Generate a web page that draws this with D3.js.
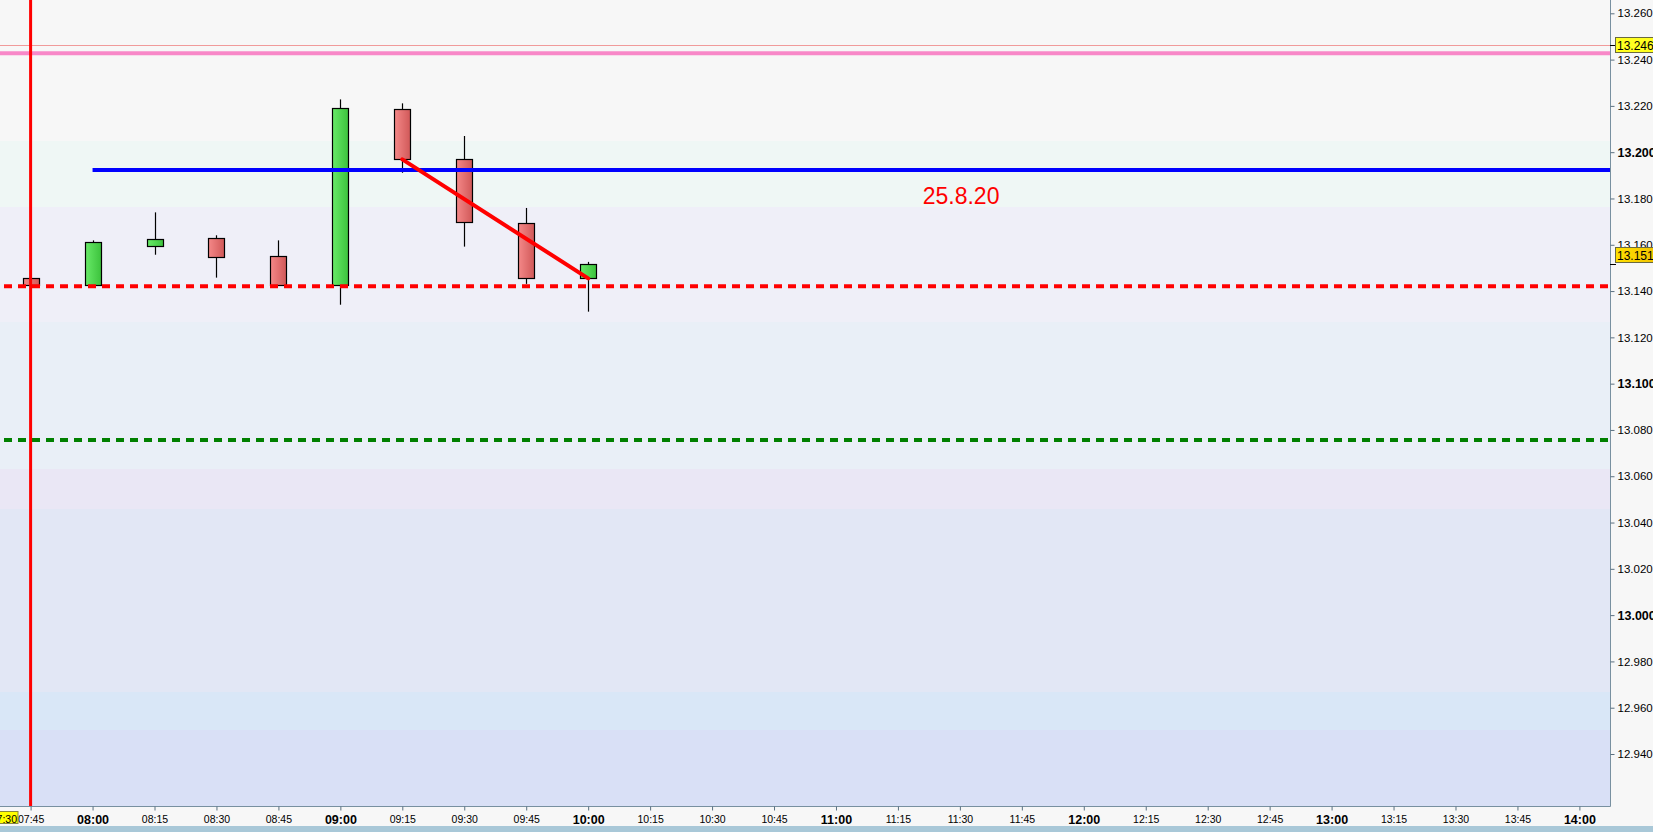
<!DOCTYPE html>
<html><head><meta charset="utf-8">
<script src="https://cdn.jsdelivr.net/npm/d3@7/dist/d3.min.js"></script>
<style>
body{margin:0;background:#f7f7f7;overflow:hidden}
svg{display:block}
text{font-family:"Liberation Sans",Arial,sans-serif}
</style>
</head><body>
<svg id="c" width="1653" height="832"></svg>
<script>
// ---- data ----
const candleTimes = ["07:45","08:00","08:15","08:30","08:45","09:00","09:15","09:30","09:45","10:00"];
const opens  = [13.1455,13.1425,13.1593,13.1628,13.1550,13.1425,13.2185,13.1969,13.1693,13.1455];
const highs  = [13.1455,13.1619,13.1740,13.1641,13.1619,13.2228,13.2211,13.2070,13.1759,13.1526];
const lows   = [13.1425,13.1425,13.1557,13.1458,13.1425,13.1341,13.1911,13.1592,13.1431,13.1311];
const closes = [13.1425,13.1611,13.1624,13.1546,13.1425,13.2190,13.1969,13.1697,13.1455,13.1516];

const xTickLabels = ["07:45","08:00","08:15","08:30","08:45","09:00","09:15","09:30","09:45","10:00",
  "10:15","10:30","10:45","11:00","11:15","11:30","11:45","12:00","12:15","12:30","12:45",
  "13:00","13:15","13:30","13:45","14:00"];
const yTickValues = [12.94,12.96,12.98,13.00,13.02,13.04,13.06,13.08,13.10,13.12,13.14,13.16,13.18,13.20,13.22,13.24,13.26];

// background bands (price boundaries, top to bottom)
const bandEdges = [13.2660,13.2048,13.1763,13.1266,13.0631,13.0458,12.9668,12.9504,12.9170];
const bandColors = ["#f7f7f7","#eff7f5","#efeff8","#e9eff7","#eae7f5","#e2e7f5","#d9e7f7","#d9e0f6"];

// horizontal levels
const pinkLevel = 13.2427;
const thinLevel = 13.2463;
const blueLevel = 13.1923;
const blueStart = "08:00";
const redDashLevel = 13.1421;
const greenDashLevel = 13.0757;
const verticalLineTime = "07:45";
const trendFrom = ["09:15", 13.1969];
const trendTo = ["10:00", 13.1455];
const noteText = "25.8.20";
const noteTime = "11:21";
const noteValue = 13.1777;
const lastPriceLabel = "13.151,";
const lastPrice = 13.1517;
const thinLabel = "13.246,";
const cursorLabel = "07:30";

// ---- layout ----
const W = 1653, H = 832, PR = 1610, PB = 806;
const toMin = s => { const [h,m] = s.split(":").map(Number); return h*60+m; };
const x = d3.scaleLinear().domain([465, 840]).range([30.6, 1579.4]);
const y = d3.scaleLinear().domain([12.94, 13.26]).range([754, 13.3]);

const svg = d3.select("#c");
svg.append("rect").attr("width",W).attr("height",H).attr("fill","#f7f7f7");

const defs = svg.append("defs");
function grad(id, c1, c2){
  const g = defs.append("linearGradient").attr("id",id).attr("x1","0").attr("x2","1").attr("y1","0").attr("y2","0");
  g.append("stop").attr("offset","0").attr("stop-color",c1);
  g.append("stop").attr("offset","1").attr("stop-color",c2);
}
grad("gUp","#68ea68","#3cc23c");
grad("gDn","#f48888","#d05858");
grad("gLbl","#ffe000","#f0c000");
defs.append("clipPath").attr("id","plot").append("rect").attr("x",0).attr("y",0).attr("width",PR).attr("height",PB);

const plot = svg.append("g").attr("clip-path","url(#plot)");

// bands
plot.selectAll("rect.band").data(bandColors).join("rect").attr("class","band")
  .attr("x",0).attr("width",PR)
  .attr("y",(d,i)=>Math.round(y(bandEdges[i])))
  .attr("height",(d,i)=>Math.round(y(bandEdges[i+1]))-Math.round(y(bandEdges[i])))
  .attr("fill",d=>d);

// candles
const candles = candleTimes.map((t,i)=>({t:toMin(t),o:opens[i],h:highs[i],l:lows[i],c:closes[i]}));
const cg = plot.append("g");
cg.selectAll("line.wick").data(candles).join("line").attr("class","wick")
  .attr("x1",d=>Math.round(x(d.t))+0.5).attr("x2",d=>Math.round(x(d.t))+0.5)
  .attr("y1",d=>y(d.h)).attr("y2",d=>y(d.l))
  .attr("stroke","#000").attr("stroke-width",1.2);
cg.selectAll("rect.body").data(candles).join("rect").attr("class","body")
  .attr("x",d=>Math.round(x(d.t))-8+0.5).attr("width",16)
  .attr("y",d=>Math.round(y(Math.max(d.o,d.c)))+0.5)
  .attr("height",d=>Math.max(1,Math.round(y(Math.min(d.o,d.c)))-Math.round(y(Math.max(d.o,d.c)))))
  .attr("fill",d=>d.c>=d.o?"url(#gUp)":"url(#gDn)")
  .attr("stroke","#000").attr("stroke-width",1.2);

// horizontal lines
plot.append("line").attr("x1",0).attr("x2",PR).attr("y1",Math.round(y(thinLevel))+0.5).attr("y2",Math.round(y(thinLevel))+0.5)
  .attr("stroke","#f09a9a").attr("stroke-width",1);
plot.append("line").attr("x1",0).attr("x2",PR).attr("y1",y(pinkLevel)).attr("y2",y(pinkLevel))
  .attr("stroke","#f888c8").attr("stroke-width",4);
plot.append("line").attr("x1",x(toMin(blueStart))).attr("x2",PR).attr("y1",y(blueLevel)).attr("y2",y(blueLevel))
  .attr("stroke","#0000ff").attr("stroke-width",4);
plot.append("line").attr("x1",4).attr("x2",PR).attr("y1",y(redDashLevel)).attr("y2",y(redDashLevel))
  .attr("stroke","#ff0000").attr("stroke-width",4).attr("stroke-dasharray","8 6");
plot.append("line").attr("x1",4).attr("x2",PR).attr("y1",y(greenDashLevel)).attr("y2",y(greenDashLevel))
  .attr("stroke","#008000").attr("stroke-width",4).attr("stroke-dasharray","8 6");

// vertical red line
plot.append("line").attr("x1",x(toMin(verticalLineTime))).attr("x2",x(toMin(verticalLineTime)))
  .attr("y1",0).attr("y2",PB).attr("stroke","#ff0000").attr("stroke-width",3);

// trend line
plot.append("line")
  .attr("x1",x(toMin(trendFrom[0]))).attr("y1",y(trendFrom[1]))
  .attr("x2",x(toMin(trendTo[0]))).attr("y2",y(trendTo[1]))
  .attr("stroke","#ff0000").attr("stroke-width",4).attr("stroke-linecap","round");

// note text
plot.append("text").attr("x",x(toMin(noteTime))).attr("y",y(noteValue))
  .attr("fill","#ff0000").attr("font-size",23).text(noteText);

// borders
svg.append("line").attr("x1",PR+0.5).attr("x2",PR+0.5).attr("y1",0).attr("y2",PB+0.5).attr("stroke","#7890a0");
svg.append("line").attr("x1",0).attr("x2",PR+0.5).attr("y1",PB+0.5).attr("y2",PB+0.5).attr("stroke","#7890a0");
svg.append("rect").attr("x",0).attr("y",826).attr("width",W).attr("height",6).attr("fill","#a9c8d8");

// y axis
const yAxis = svg.append("g").attr("transform",`translate(${PR+0.5},0)`)
  .call(d3.axisRight(y).tickValues(yTickValues).tickSize(4).tickPadding(3).tickFormat(d3.format(".3f")));
yAxis.select(".domain").remove();
yAxis.selectAll(".tick line").attr("stroke","#5a7080");
yAxis.selectAll(".tick text").attr("fill","#000")
  .attr("font-size",d=>Math.abs(d*10-Math.round(d*10))<1e-6?12.5:11.5)
  .attr("font-weight",d=>Math.abs(d*10-Math.round(d*10))<1e-6?"bold":"normal")
  .style("font-family","'Liberation Sans',Arial,sans-serif");

// x axis
const xAxis = svg.append("g").attr("transform",`translate(0,${PB+0.5})`)
  .call(d3.axisBottom(x).tickValues(xTickLabels.map(toMin)).tickSize(4).tickPadding(5)
    .tickFormat((d,i)=>xTickLabels[i]));
xAxis.select(".domain").remove();
xAxis.selectAll(".tick line").attr("stroke","#5a7080");
xAxis.selectAll(".tick text").attr("fill","#000")
  .attr("font-size",d=>d%60===0?12.5:10.5)
  .attr("font-weight",d=>d%60===0?"bold":"normal")
  .style("font-family","'Liberation Sans',Arial,sans-serif");

// price labels on axis
function priceLabel(val, txt, fill, yOff){
  const yy = Math.round(y(val)) + yOff;
  const g = svg.append("g");
  g.append("line").attr("x1",PR).attr("x2",PR+6).attr("y1",Math.round(y(val))+0.5).attr("y2",Math.round(y(val))+0.5).attr("stroke","#000");
  g.append("rect").attr("x",PR+5.5).attr("y",yy-7.5).attr("width",45).attr("height",15)
    .attr("fill",fill).attr("stroke","#6a6a40").attr("stroke-width",1);
  g.append("text").attr("x",PR+7).attr("y",yy+4.5).attr("font-size",12).attr("fill","#000").text(txt);
}
priceLabel(thinLevel, thinLabel, "#ffff20", 0);
priceLabel(lastPrice, lastPriceLabel, "url(#gLbl)", -9);

// cursor label on time axis
svg.append("rect").attr("x",-20.5).attr("y",811.5).attr("width",38.5).attr("height",12)
  .attr("fill","#ffff00").attr("stroke","#888840");
svg.append("text").attr("x",17).attr("y",822.5).attr("text-anchor","end").attr("font-size",10.5).text(cursorLabel);
</script>
</body></html>
